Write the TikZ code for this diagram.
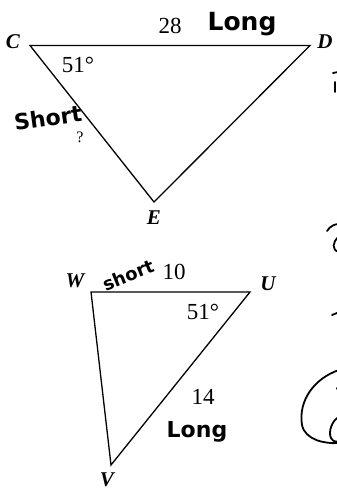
\documentclass[tikz,border=0pt]{standalone}
\usepackage{fontspec}
\setmainfont{Liberation Serif}
\newfontfamily\handfont{DejaVu Sans}
\begin{document}
\begin{tikzpicture}[x=1pt,y=-1pt,
  edge/.style={line width=1.3pt,line join=miter},
  vlabel/.style={font=\fontsize{21}{21}\selectfont\itshape\bfseries,inner sep=0pt},
  nlabel/.style={font=\fontsize{23}{23}\selectfont,inner sep=0pt},
  hand/.style={font=\fontsize{22}{22}\selectfont\handfont\bfseries,inner sep=0pt},
  scribble/.style={line width=1.8pt,line cap=round}]
\useasboundingbox (0,0) rectangle (337,496);
% top triangle
\coordinate (C) at (30,45.5);
\coordinate (D) at (310,45.5);
\coordinate (E) at (154,202);
\draw[edge] (C) -- (D) -- (E) -- cycle;
\node[vlabel] (lC) at (13,42) {C};
\node[vlabel] (lD) at (325,42) {D};
\node[vlabel] (lE) at (154,218) {E};
\node[nlabel] (n28) at (170,26) {28};
\node[nlabel] (a51a) at (78,65) {51\textdegree};
\node[nlabel,font=\fontsize{16}{16}\selectfont] (q) at (80,137) {?};
\node[hand,font=\fontsize{25}{25}\selectfont\handfont\bfseries] (long1) at (242,24) {Long};
\node[hand,rotate=8] (short1) at (48,118) {Short};
% bottom triangle
\coordinate (W) at (91,292);
\coordinate (U) at (250,292);
\coordinate (V) at (111,465);
\draw[edge] (W) -- (U) -- (V) -- cycle;
\node[vlabel] (lW) at (75,281) {W};
\node[vlabel] (lU) at (268,284) {U};
\node[vlabel] (lV) at (107,480) {V};
\node[nlabel] (n10) at (174,272) {10};
\node[nlabel] (a51b) at (203,312) {51\textdegree};
\node[nlabel] (n14) at (203,397) {14};
\node[hand,font=\fontsize{18}{18}\selectfont\handfont\bfseries,rotate=22] (short2) at (128,275) {short};
\node[hand] (long2) at (197,432) {Long};
% cut-off marks at right edge
\draw[scribble] (333,73) -- (338,72);
\draw[scribble] (335,82) -- (335,92);
\draw[scribble] (327,231) .. controls (330,226) and (335,224) .. (339,224);
\draw[scribble] (338,237) .. controls (333,242) and (331,250) .. (339,252);
\draw[scribble] (332,315) -- (337,313);
\draw[scribble] (339,370) .. controls (315,378) and (298,400) .. (302,425)
  .. controls (305,440) and (325,444) .. (339,443);
\draw[scribble] (337,388) -- (338,390);
\draw[scribble] (339,417) .. controls (332,420) and (328,432) .. (331,438)
  .. controls (333,442) and (337,442) .. (339,441);
\end{tikzpicture}
\end{document}
